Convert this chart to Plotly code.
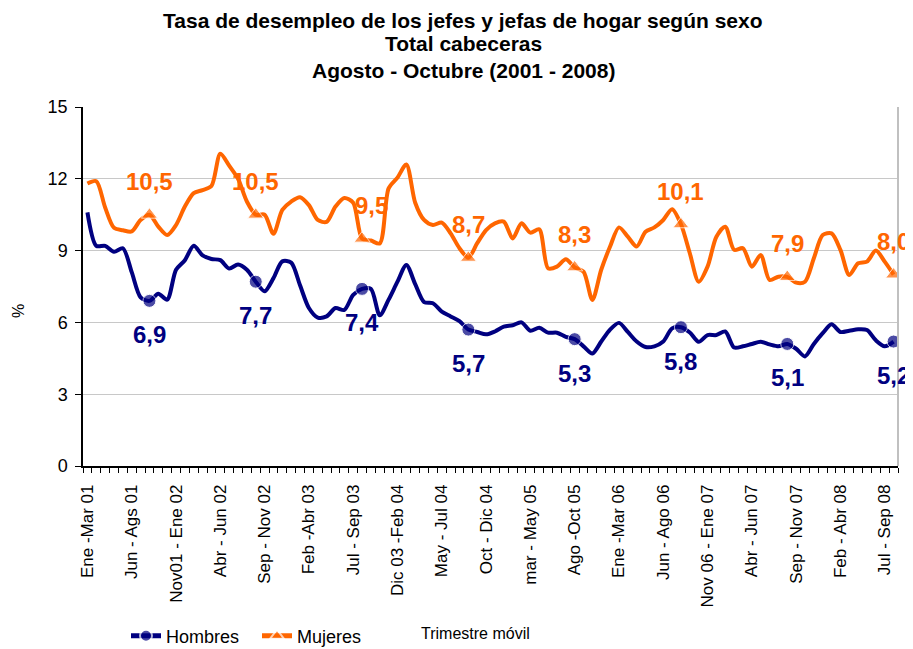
import plotly.graph_objects as go

tick_labels = ["Ene -Mar 01", "Jun - Ags 01", "Nov01 - Ene 02", "Abr - Jun 02", "Sep - Nov 02",
               "Feb -Abr 03", "Jul - Sep 03", "Dic 03 -Feb 04", "May - Jul 04", "Oct - Dic 04",
               "mar - May 05", "Ago -Oct 05", "Ene -Mar 06", "Jun - Ago 06", "Nov 06 - Ene 07",
               "Abr - Jun 07", "Sep - Nov 07", "Feb - Abr 08", "Jul - Sep 08"]
tick_positions = list(range(0, 91, 5))

hombres = [10.6, 9.2, 9.2, 8.95, 9.1, 8.1, 7.05, 6.9, 7.2, 6.95,
           8.2, 8.6, 9.2, 8.8, 8.65, 8.6, 8.25, 8.42, 8.2, 7.7,
           7.3, 7.85, 8.55, 8.5, 7.55, 6.6, 6.2, 6.25, 6.6, 6.52,
           7.15, 7.4, 7.4, 6.3, 6.95, 7.7, 8.4, 7.6, 6.85, 6.8,
           6.45, 6.25, 6.05, 5.7, 5.6, 5.5, 5.62, 5.82, 5.88, 6.0,
           5.65, 5.78, 5.57, 5.57, 5.4, 5.3, 5.0, 4.7, 5.2, 5.7,
           5.98, 5.6, 5.2, 4.97, 5.0, 5.2, 5.75, 5.8, 5.58, 5.19,
           5.47, 5.47, 5.62, 4.95, 5.0, 5.1, 5.19, 5.08, 5.0, 5.1,
           4.9, 4.58, 5.1, 5.55, 5.92, 5.6, 5.65, 5.71, 5.68, 5.25,
           5.0, 5.2]
mujeres = [11.8, 11.9, 10.8, 9.95, 9.85, 9.8, 10.28, 10.5, 10.0, 9.65,
           10.07, 10.84, 11.4, 11.53, 11.7, 13.05, 12.55, 12.0, 11.05, 10.5,
           10.5, 9.7, 10.7, 11.05, 11.23, 10.9, 10.28, 10.2, 10.84, 11.2,
           11.0, 9.5, 9.42, 9.3, 11.6, 12.05, 12.6, 11.0, 10.28, 10.07,
           10.17, 9.72, 9.1, 8.7, 9.31, 9.86, 10.14, 10.21, 9.51, 10.14,
           9.75, 9.89, 8.26, 8.33, 8.64, 8.3, 8.12, 6.94, 8.2, 9.17,
           9.97, 9.58, 9.17, 9.79, 9.97, 10.28, 10.73, 10.1, 8.89, 7.7,
           8.33, 9.58, 10.0, 9.03, 9.1, 8.33, 8.82, 7.77, 7.91, 7.9,
           7.66, 7.7, 8.68, 9.65, 9.72, 9.03, 7.98, 8.47, 8.54, 9.0,
           8.54, 8.0]
marked = [7, 19, 31, 43, 55, 67, 79, 91]
title_lines = ["Tasa de desempleo de los jefes y jefas de hogar según sexo",
               "Total cabeceras",
               "Agosto - Octubre (2001 - 2008)"]

x = list(range(len(hombres)))
NAVY = "#000080"
ORANGE = "#FF6600"
FONT = "Arial, Liberation Sans, sans-serif"

# the page body adds an 8px offset; figure is sized to fit the remaining window
OFF = 8
W, H = 913 - OFF, 649 - OFF

def sizes(n, s):
    return [s if i in marked else 0 for i in range(n)]

fig = go.Figure()
fig.add_trace(go.Scatter(x=x, y=hombres, name="Hombres", mode="lines+markers",
                         line=dict(color=NAVY, width=4, shape="spline", smoothing=0.8),
                         marker=dict(symbol="circle", size=sizes(len(x), 13), color=NAVY)))
fig.add_trace(go.Scatter(x=x, y=mujeres, name="Mujeres", mode="lines+markers",
                         line=dict(color=ORANGE, width=4, shape="spline", smoothing=0.8),
                         marker=dict(symbol="triangle-up", size=sizes(len(x), 14), color=ORANGE)))

ann = []
for i in marked:
    ann.append(dict(x=i, y=hombres[i], text=f"{hombres[i]:.1f}".replace(".", ","),
                    showarrow=False, yshift=-34,
                    font=dict(family=FONT, size=24, color=NAVY, weight="bold")))
    ann.append(dict(x=i, y=mujeres[i], text=f"{mujeres[i]:.1f}".replace(".", ","),
                    showarrow=False, yshift=33, xshift=(9 if i == 31 else 0),
                    font=dict(family=FONT, size=24, color=ORANGE, weight="bold")))

# plot area on the page: x 83..898 px, y 107..466 px
def py(pix):
    return (466 - pix) / 359.0

def px(pix):
    return (pix - 83) / 815.0

for line, ypix in zip(title_lines, [20, 44, 70]):
    ann.append(dict(xref="paper", yref="paper", x=px(463), y=py(ypix), text="<b>" + line + "</b>",
                    showarrow=False, xanchor="center", yanchor="middle",
                    font=dict(family=FONT, size=21, color="black")))
ann.append(dict(xref="paper", yref="paper", x=px(475), y=py(633), text="Trimestre móvil",
                showarrow=False, xanchor="center", yanchor="middle",
                font=dict(family=FONT, size=16, color="black")))
ann.append(dict(xref="paper", yref="paper", x=px(18), y=py(311), text="%", textangle=-90,
                showarrow=False, xanchor="center", yanchor="middle",
                font=dict(family=FONT, size=16, color="black")))

fig.update_layout(
    width=W, height=H,
    margin=dict(l=83 - OFF, r=913 - 898, t=107 - OFF, b=649 - 466, autoexpand=False),
    paper_bgcolor="white", plot_bgcolor="white",
    font=dict(family=FONT, color="black"),
    showlegend=True,
    legend=dict(orientation="h", xref="container", yref="container",
                x=(126 - OFF) / W, xanchor="left", y=1 - (636 - OFF) / H, yanchor="middle",
                font=dict(family=FONT, size=18, color="black"), itemsizing="constant",
                entrywidth=86, entrywidthmode="pixels",
                bgcolor="rgba(0,0,0,0)"),
    annotations=ann,
    shapes=[dict(type="line", xref="paper", yref="y", x0=1, x1=1, y0=0, y1=15,
                 line=dict(color="#c0c0c0", width=2))],
)
fig.update_xaxes(range=[-0.5, 91.5], tickmode="array", tickvals=tick_positions, ticktext=tick_labels,
                 tickangle=-90, ticks="outside", ticklen=10, tickcolor="rgba(0,0,0,0)",
                 tickfont=dict(family=FONT, size=17, color="black"), automargin=False,
                 showline=True, linecolor="black", linewidth=1.5, showgrid=False, zeroline=False,
                 minor=dict(tickmode="array", tickvals=[i - 0.5 for i in range(93)],
                            ticks="outside", ticklen=5, tickcolor="black", showgrid=False))
fig.update_yaxes(range=[0, 15], tickmode="array", tickvals=[0, 3, 6, 9, 12, 15],
                 ticks="outside", ticklen=6, tickcolor="black", automargin=False,
                 ticklabelstandoff=4,
                 tickfont=dict(family=FONT, size=18, color="black"),
                 showline=True, linecolor="black", linewidth=1.5,
                 showgrid=True, gridcolor="#c8c8c8", gridwidth=1, zeroline=False)

fig.write_html("out.html")
